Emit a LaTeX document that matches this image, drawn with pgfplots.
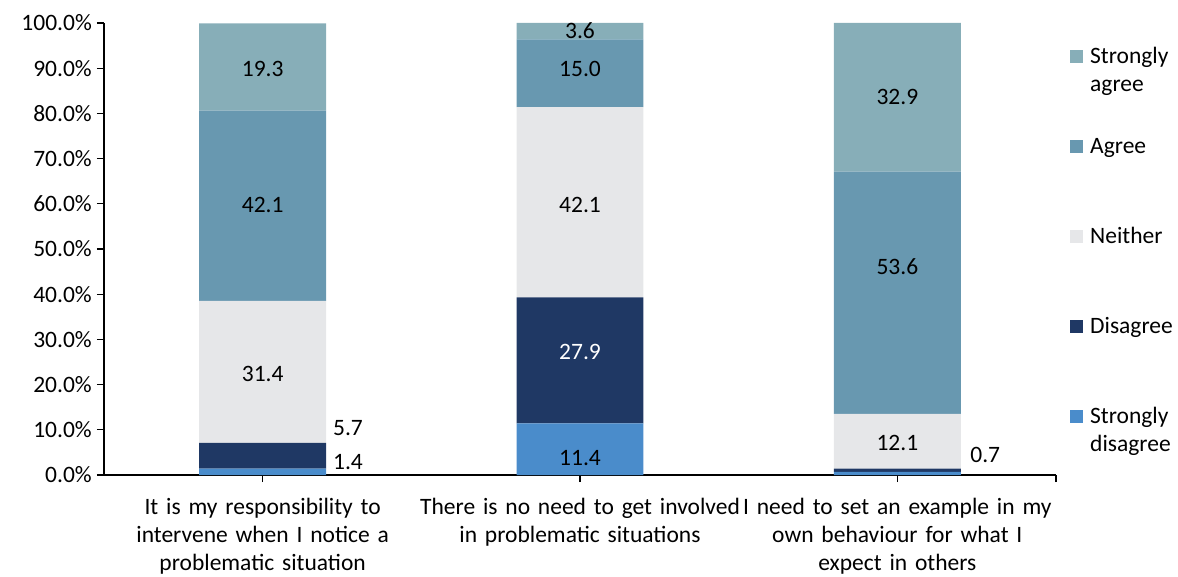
\documentclass[border=0pt]{standalone}
\usepackage{fontspec}
\setmainfont{Carlito}
\usepackage{pgfplots}
\pgfplotsset{compat=1.18}

\definecolor{sagree}{HTML}{87AEB8}
\definecolor{agree}{HTML}{6898B0}
\definecolor{neither}{HTML}{E6E7E9}
\definecolor{disagree}{HTML}{1F3864}
\definecolor{sdisagree}{HTML}{4A8CCB}

% legend text that hangs below the first line without adding row height
\newcommand{\lentry}[1]{\hspace{5pt}\smash{\raisebox{-9pt}{\parbox[t]{80pt}{\raggedright #1}}}}

\begin{document}
\fontsize{23.5}{28}\selectfont
\begin{tikzpicture}
\useasboundingbox (0,0) rectangle (1178pt,576pt);
\begin{axis}[
  at={(104pt,101pt)}, anchor=south west,
  scale only axis, width=952pt, height=452pt,
  ybar stacked, bar width=0.4,
  xmin=-0.5, xmax=2.5, ymin=0, ymax=100,
  axis x line*=bottom, axis y line*=left,
  axis line style={line width=1.3pt, -},
  tick align=outside, major tick length=7pt,
  tick style={black, line width=1.3pt},
  xtick={0,1,2},
  extra x ticks={2.5}, extra x tick labels={},
  xticklabels={{It is my responsibility to\\intervene when I notice a\\problematic situation},
                {There is no need to get involved\\in problematic situations},
                {I need to set an example in my\\own behaviour for what I\\expect in others}},
  xticklabel style={text width=330pt, align=center, inner sep=0pt, yshift=-15.5pt},
  ytick={0,10,...,100},
  yticklabel={\pgfmathprintnumber[fixed,fixed zerofill,precision=1]{\tick}\%},
  /pgf/number format/assume math mode=true,
  yticklabel style={inner sep=0pt, xshift=-5pt},
  reverse legend,
  legend style={at={(rel axis cs:1.0147,0.9414)}, anchor=north west,
    draw=none, fill=none, inner sep=0pt, row sep=77pt,
    cells={anchor=west}},
  legend image code/.code={\fill[#1] (0pt,-6.5pt) rectangle (13pt,6.5pt);},
]
\addplot[fill=sdisagree, draw=none] coordinates {(0,1.4) (1,11.4) (2,0.7)};
\addlegendentry{\lentry{Strongly\\disagree}}
\addplot[fill=disagree, draw=none] coordinates {(0,5.7) (1,27.9) (2,0.7)};
\addlegendentry{\lentry{Disagree}}
\addplot[fill=neither, draw=none] coordinates {(0,31.4) (1,42.1) (2,12.1)};
\addlegendentry{\lentry{Neither}}
\addplot[fill=agree, draw=none] coordinates {(0,42.1) (1,15.0) (2,53.6)};
\addlegendentry{\lentry{Agree}}
\addplot[fill=sagree, draw=none] coordinates {(0,19.3) (1,3.6) (2,32.9)};
\addlegendentry{\lentry{Strongly\\agree}}

% anchor points for the value labels
\coordinate (a1) at (axis cs:0,89.8);
\coordinate (a2) at (axis cs:0,59.7);
\coordinate (a3) at (axis cs:0,22.3);
\coordinate (a4) at (axis cs:0.269,10.4);
\coordinate (a5) at (axis cs:0.269,2.9);
\coordinate (b1) at (axis cs:1,98.2);
\coordinate (b2) at (axis cs:1,89.8);
\coordinate (b3) at (axis cs:1,59.7);
\coordinate (b4) at (axis cs:1,27.2);
\coordinate (b5) at (axis cs:1,3.8);
\coordinate (c1) at (axis cs:2,83.6);
\coordinate (c2) at (axis cs:2,46.2);
\coordinate (c3) at (axis cs:2,7.1);
\coordinate (c4) at (axis cs:2.277,4.4);
\end{axis}
% value labels, drawn on top of the bars
\node at (a1) {19.3};
\node at (a2) {42.1};
\node at (a3) {31.4};
\node at (a4) {5.7};
\node at (a5) {1.4};
\node at (b1) {3.6};
\node at (b2) {15.0};
\node at (b3) {42.1};
\node[white] at (b4) {27.9};
\node at (b5) {11.4};
\node at (c1) {32.9};
\node at (c2) {53.6};
\node at (c3) {12.1};
\node at (c4) {0.7};
\end{tikzpicture}
\end{document}
